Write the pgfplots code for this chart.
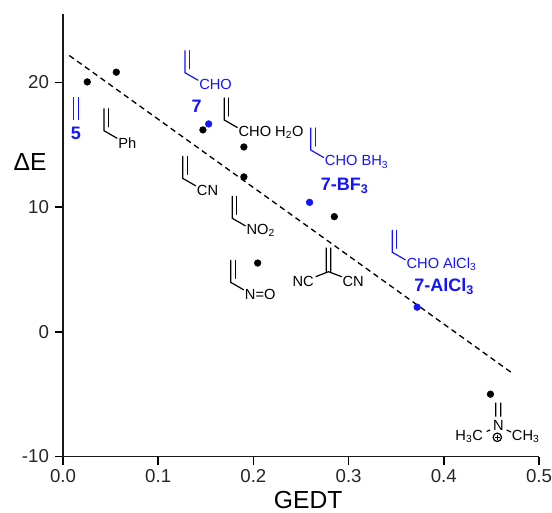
\documentclass[border=0pt]{standalone}
\usepackage{pgfplots}
\pgfplotsset{compat=1.18}
\usepackage{fontspec}
\setmainfont{Liberation Sans}
\definecolor{molblue}{RGB}{20,20,255}
\newcommand{\vinyl}[5][black]{%
  \draw[#1,line width=0.9pt,line cap=round] (#2,#3-22)--(#2,#3)--(#2+13,#3+7.5);
  \draw[#1,line width=0.9pt,line cap=round] (#2+4.4,#3-22)--(#2+4.4,#3-4);
  \node[#1,anchor=west,inner sep=0pt,font=\fontsize{11}{13}\selectfont] at (#2+14,#3+12) {#4#5};
}
\begin{document}
\begin{tikzpicture}
\path[use as bounding box] (0,0) rectangle (414pt,-384pt);
\begin{axis}[
  at={(47.25pt,-342.375pt)}, anchor=south west,
  scale only axis, width=357pt, height=331.9pt,
  xmin=0, xmax=0.5, ymin=-10, ymax=25.5,
  axis lines=left,
  axis line style={-, line width=1.2pt, black!90},
  tick style={line width=1.2pt, black},
  tick align=outside, major tick length=6pt,
  xtick={0,0.1,0.2,0.3,0.4,0.5},
  xticklabels={0.0,0.1,0.2,0.3,0.4,0.5},
  ytick={-10,0,10,20},
  yticklabels={-10,0,10,20},
  tick label style={font=\fontsize{14}{16}\selectfont, text=black!85},
  xticklabel style={yshift=0pt},
  yticklabel style={xshift=-1pt},
  xlabel={GEDT},
  ylabel={ΔE},
  xlabel style={font=\fontsize{18.5}{22}\selectfont, at={(axis description cs:0.515,-0.098)}, anchor=center, inner sep=0pt},
  ylabel style={font=\fontsize{18.5}{22}\selectfont, rotate=-90, at={(axis description cs:-0.069,0.666)}, anchor=center, inner sep=0pt},
  clip=false,
]
\addplot[black, line width=1pt, dash pattern=on 4.2pt off 3pt] coordinates {(0.0066,22.17) (0.473,-3.37)};
\addplot[only marks, mark=*, mark size=2.5pt, mark options={fill=black,draw=black}] coordinates {
 (0.0255,20.05) (0.056,20.83) (0.147,16.2) (0.190,14.83) (0.190,12.43)
 (0.285,9.24) (0.2045,5.52) (0.449,-5.0)};
\addplot[only marks, mark=*, mark size=2.5pt, mark options={fill=molblue,draw=molblue}] coordinates {
 (0.153,16.68) (0.259,10.39) (0.372,1.98)};
\end{axis}
\begin{scope}[x=0.75pt,y=-0.75pt]
\draw[molblue,line width=0.9pt] (73.3,96.7)--(73.3,120) (78.3,96.7)--(78.3,120);
\tikzset{bl/.style={molblue,inner sep=0pt,font=\fontsize{13.5}{16}\selectfont\bfseries}}
\node[bl] at (76,133.7) {5};
\node[bl] at (196.7,106.7) {7};
\node[bl,anchor=west] at (320.7,186) {7-BF\textsubscript{3}};
\node[bl,anchor=west] at (414,286.7) {7-AlCl\textsubscript{3}};
\vinyl[molblue]{185}{72.7}{CHO}{}
\vinyl{224.3}{120}{CHO}{\kern3pt H\textsubscript{2}O}
\vinyl{104}{130.7}{Ph}{}
\vinyl{182.7}{178.3}{CN}{}
\vinyl{232.3}{218.3}{NO\textsubscript{2}}{}
\vinyl{230.7}{282.3}{N=O}{}
\vinyl[molblue]{310.7}{150}{CHO}{\kern3pt BH\textsubscript{3}}
\vinyl[molblue]{392.3}{252.3}{CHO}{\kern3pt AlCl\textsubscript{3}}
\draw[black,line width=0.9pt] (326.3,247.7)--(326.3,271.7) (330.7,247.7)--(330.7,271.7)
  (315.7,276.7)--(328.5,271.7)--(341.7,276.7);
\tikzset{mol/.style={black,inner sep=0pt,font=\fontsize{11}{13}\selectfont}}
\node[mol,anchor=east] at (314,281.7) {NC};
\node[mol,anchor=west] at (342.3,281.7) {CN};
\draw[black,line width=0.9pt] (495.7,402.7)--(495.7,416.7) (500.7,402.7)--(500.7,416.7)
  (486.7,431.5)--(490,430) (506.7,430)--(511,432);
\node[mol] at (498.3,425) {N};
\node[mol,anchor=east] at (483.3,436.7) {H\textsubscript{3}C};
\node[mol,anchor=west] at (511.7,436.7) {CH\textsubscript{3}};
\draw[black,line width=0.9pt] (497.3,437.3) circle (4.2);
\draw[black,line width=0.9pt] (494.8,437.3)--(499.8,437.3) (497.3,434.8)--(497.3,439.8);
\end{scope}
\end{tikzpicture}
\end{document}
